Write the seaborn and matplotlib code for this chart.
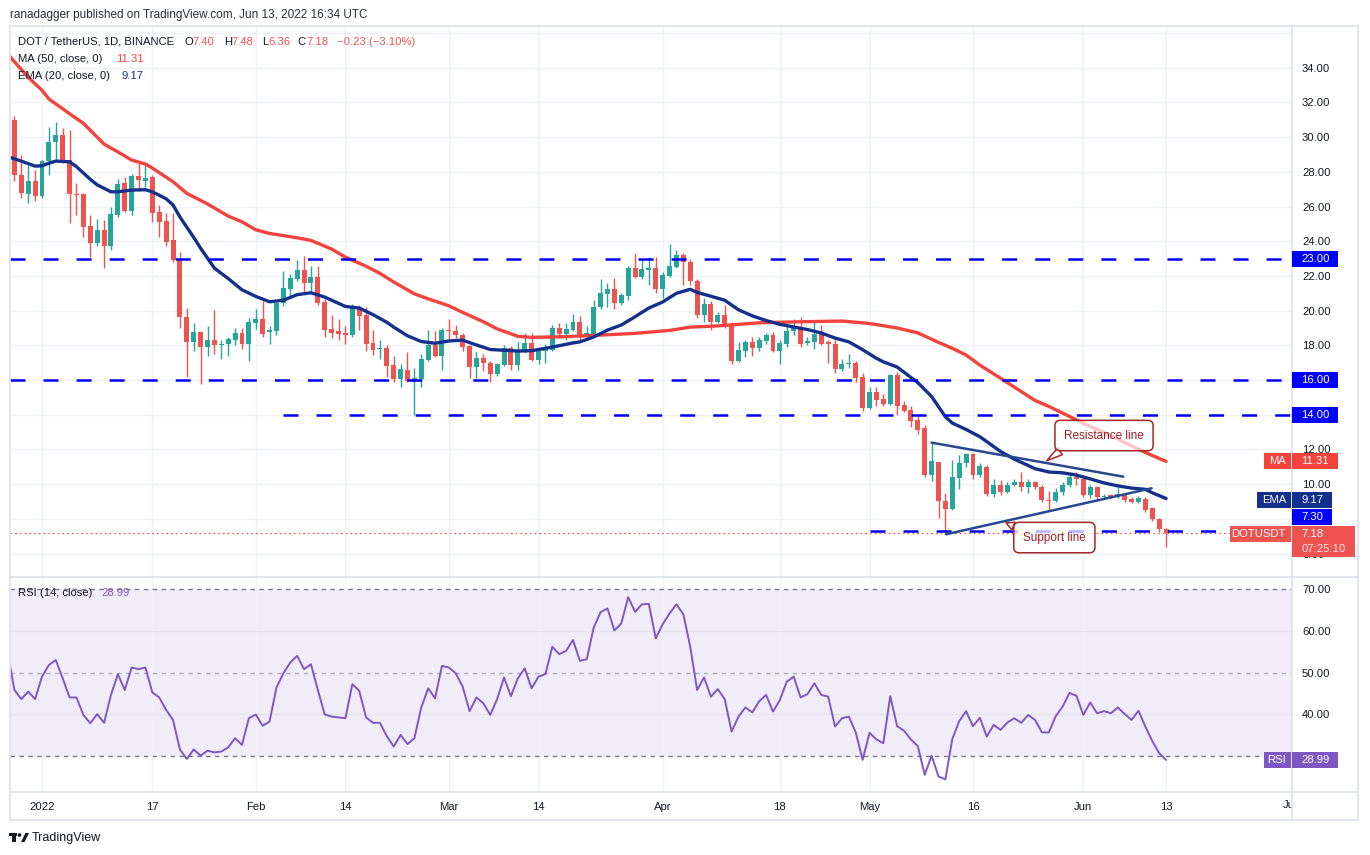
import numpy as np
import pandas as pd
import matplotlib
matplotlib.use("Agg")
import matplotlib.pyplot as plt
import matplotlib.transforms as mtransforms
from matplotlib.patches import Rectangle, Polygon, Ellipse
from matplotlib.lines import Line2D
import seaborn as sns

# daily candles DOT/USDT (Binance), 27 Dec 2021 .. 13 Jun 2022
opens = [31.4, 31.0, 27.8, 26.7, 27.5,
         26.6, 28.6, 29.7, 30.1, 28.7, 26.7, 26.7, 24.88, 23.9, 24.65,
         23.7, 25.5, 27.35, 25.76, 27.76, 27.5, 27.7, 25.68, 25.16, 24.07,
         22.97, 19.63, 18.2, 18.77, 17.92, 18.3, 18.0, 18.05, 18.29, 18.69, 18.07,
         19.27, 19.5, 18.75, 18.85, 20.42, 21.24, 21.82, 22.34, 21.6, 21.92,
         20.51, 18.94, 18.82, 18.69, 18.59, 20.17, 19.75, 18.15, 17.77, 17.82,
         16.86, 16.06, 16.58, 15.9, 16.06, 17.15, 18.02, 17.38,
         18.9, 18.85, 18.59, 17.96, 16.73, 17.29, 16.96, 16.33, 16.86, 17.82,
         16.86, 17.63, 18.11, 17.15, 17.69, 17.73, 18.99, 18.65, 18.88, 19.32,
         18.48, 18.67, 20.19, 20.96, 21.24, 20.45, 20.86, 22.47, 21.95, 22.34, 22.47,
         21.24, 22.01, 22.53, 23.2, 22.82, 21.7, 19.75, 20.38, 19.36, 19.75,
         19.23, 17.11, 17.69, 18.19, 17.86, 18.25, 18.59, 17.69, 18.07, 18.84,
         19.07, 18.11, 18.21, 18.65, 18.17, 18.05, 16.61, 16.9, 16.98, 16.15,
         14.4, 15.31, 14.9, 14.62, 16.29, 14.56, 14.27, 13.69, 13.21, 10.52,
         11.26, 9.03, 8.56, 10.37, 11.23, 11.73, 10.52, 11.0, 9.41, 9.95,
         9.56, 9.95, 10.14, 9.82, 10.14, 9.82, 9.1, 9.05, 9.56, 9.95, 10.43,
         10.27, 9.37, 9.82, 9.24, 9.37, 9.28, 9.41, 9.14, 8.95, 9.14, 8.6, 7.97, 7.40]
highs = [31.6, 31.2, 28.97, 28.4, 28.1,
         28.7, 30.6, 30.87, 30.5, 30.4, 27.35, 26.8, 25.5, 25.3, 25.2,
         26.0, 27.6, 27.7, 27.9, 28.5, 28.4, 27.8, 26.1, 25.6, 25.6,
         23.4, 20.15, 19.3, 18.8, 19.1, 20.03, 18.3, 18.5, 19.0, 19.0, 19.57,
         20.1, 20.57, 19.1, 20.5, 22.28, 22.1, 22.9, 23.15, 22.6, 22.6,
         20.8, 19.75, 19.5, 19.1, 20.4, 20.3, 20.2, 18.9, 18.3, 18.0,
         17.4, 16.9, 17.6, 16.67, 17.5, 18.9, 18.8, 19.0,
         19.5, 19.2, 18.7, 18.0, 17.6, 17.5, 17.1, 17.0, 18.0, 17.95,
         18.2, 18.7, 18.7, 17.8, 18.1, 19.2, 19.3, 19.3, 19.8, 19.7,
         19.1, 20.6, 21.8, 21.6, 21.9, 21.0, 22.6, 23.3, 22.95, 23.1, 23.1,
         22.2, 23.84, 23.5, 23.3, 23.0, 21.8, 20.7, 20.55, 19.9, 20.3,
         19.35, 18.2, 18.3, 18.5, 18.5, 18.7, 18.75, 18.3, 19.1, 19.5,
         19.65, 18.5, 19.4, 19.2, 18.3, 18.4, 17.2, 17.5, 17.1, 16.4,
         15.6, 15.6, 15.2, 16.35, 16.45, 14.8, 14.5, 13.9, 13.4, 12.44,
         11.3, 9.5, 11.4, 11.68, 11.8, 11.8, 11.2, 11.1, 10.3, 10.25,
         10.1, 10.27, 10.72, 10.27, 10.2, 9.95, 9.62, 9.8, 10.1, 10.72, 10.72,
         10.5, 9.95, 9.9, 9.41, 9.45, 9.82, 9.45, 9.28, 9.3, 9.28, 8.7, 8.03, 7.48]
lows = [30.8, 27.5, 26.5, 26.2, 26.3,
        26.5, 27.8, 28.7, 28.5, 25.07, 25.5, 24.26, 23.1, 23.7, 22.45,
        23.5, 25.4, 25.7, 25.5, 26.9, 27.1, 25.1, 24.26, 23.7, 22.8,
        19.0, 16.17, 17.7, 15.8, 17.4, 17.5, 17.2, 17.4, 18.0, 17.8, 17.1,
        18.95, 18.5, 18.1, 18.6, 20.27, 20.8, 21.7, 21.0, 21.1, 20.3,
        18.5, 18.4, 18.3, 18.1, 18.5, 18.9, 17.7, 17.45, 17.2, 16.2,
        15.9, 15.6, 15.9, 13.98, 15.6, 17.1, 17.35, 16.6,
        18.34, 18.4, 17.7, 16.1, 16.1, 16.5, 15.9, 16.25, 16.8, 16.6,
        16.6, 17.55, 17.1, 16.95, 17.0, 17.65, 18.4, 18.3, 18.8, 18.3,
        18.35, 18.5, 20.1, 20.2, 20.1, 20.3, 20.6, 21.9, 21.85, 21.5, 21.0,
        20.7, 21.95, 22.45, 21.5, 21.5, 19.6, 19.35, 18.9, 19.3, 19.0,
        16.95, 17.05, 17.3, 17.4, 17.7, 18.1, 17.6, 16.9, 17.9, 18.6,
        17.9, 18.0, 17.8, 18.0, 17.0, 16.4, 16.5, 16.7, 15.9, 14.2,
        14.35, 14.5, 14.5, 14.55, 13.98, 14.15, 13.3, 12.9, 10.4, 10.2,
        8.03, 7.16, 8.5, 9.72, 11.0, 10.3, 10.4, 9.3, 9.27, 9.4,
        9.5, 9.9, 9.62, 9.5, 9.7, 8.99, 8.51, 8.99, 9.4, 9.82, 9.95,
        9.28, 9.18, 9.14, 9.14, 9.18, 9.18, 8.99, 8.89, 8.89, 8.41, 7.89, 7.26, 6.36]
closes = [31.0, 27.8, 26.8, 27.5, 26.6,
          28.6, 29.7, 30.1, 28.6, 26.7, 26.65, 24.85, 23.9, 24.65, 23.7,
          25.57, 27.3, 25.75, 27.76, 27.55, 27.65, 25.65, 25.12, 23.97, 22.92,
          19.63, 18.2, 18.77, 17.92, 18.3, 18.0, 18.05, 18.35, 18.69, 18.07, 19.32,
          19.5, 18.65, 18.88, 20.45, 21.28, 21.86, 22.34, 21.57, 21.92, 20.45,
          18.88, 18.73, 18.65, 18.59, 20.27, 19.69, 18.07, 17.73, 17.8, 16.8,
          16.06, 16.62, 15.92, 16.1, 17.19, 18.02, 17.38, 18.88,
          18.85, 18.6, 17.92, 16.73, 17.29, 16.96, 16.33, 16.9, 17.82, 16.86,
          17.67, 18.11, 17.15, 17.69, 17.78, 18.99, 18.63, 18.94, 19.32, 18.48,
          18.69, 20.19, 21.03, 21.24, 20.45, 20.88, 22.47, 21.95, 22.4, 22.43, 21.24,
          22.05, 22.57, 23.2, 22.82, 21.7, 19.75, 20.38, 19.36, 19.75, 19.17,
          17.1, 17.73, 18.19, 17.86, 18.3, 18.59, 17.69, 18.15, 18.84, 19.07,
          18.07, 18.25, 18.65, 18.07, 18.07, 16.61, 16.9, 16.98, 16.13, 14.4,
          15.31, 14.85, 14.62, 16.29, 14.5, 14.23, 13.65, 13.12, 10.52, 11.33,
          9.0, 8.56, 10.43, 11.2, 11.73, 10.52, 11.02, 9.41, 9.95, 9.56,
          9.95, 10.14, 9.82, 10.14, 9.82, 9.08, 9.05, 9.56, 9.95, 10.43, 10.27,
          9.37, 9.82, 9.24, 9.31, 9.28, 9.41, 9.08, 8.99, 9.2, 8.51, 7.97, 7.40, 7.18]

# RSI(14) per candle
rsi = [55.0, 45.8, 43.6, 45.4, 43.6,
       49.0, 51.8, 53.0, 48.6, 44.0, 44.0, 39.8, 37.8, 40.0, 37.9,
       44.6, 49.6, 45.8, 51.2, 50.8, 51.2, 45.2, 44.0, 41.0, 38.6,
       31.5, 29.2, 31.5, 30.0, 31.2, 30.8, 31.0, 32.0, 34.2, 32.6, 39.0,
       39.9, 37.2, 38.2, 46.4, 49.8, 52.4, 54.0, 50.8, 52.0, 45.8,
       39.9, 39.4, 39.2, 39.0, 47.2, 45.6, 39.2, 37.9, 37.9, 34.7,
       32.2, 35.0, 32.8, 34.2, 41.6, 46.2, 43.8, 51.6,
       51.2, 49.8, 46.6, 40.7, 44.0, 42.6, 39.8, 43.6, 48.8, 44.3,
       48.6, 51.0, 46.2, 49.0, 49.6, 56.2, 54.4, 55.2, 57.8, 52.8,
       53.2, 60.8, 64.5, 65.4, 60.1, 61.8, 68.1, 64.6, 66.4, 66.5, 58.2,
       61.6, 64.2, 66.4, 64.0, 56.2, 45.8, 48.8, 44.2, 46.0, 43.6,
       35.8, 39.4, 41.6, 40.4, 43.1, 44.6, 40.6, 43.4, 47.8, 49.0,
       44.0, 44.8, 47.4, 44.6, 44.2, 37.0, 39.0, 39.4, 35.6, 29.0,
       35.5, 33.9, 33.0, 44.3, 37.1, 36.0, 33.9, 32.3, 25.4, 30.0,
       25.0, 24.3, 34.0, 38.3, 40.7, 37.1, 39.1, 34.6, 37.4, 36.2,
       38.0, 39.0, 37.9, 39.8, 38.6, 35.6, 35.6, 39.5, 41.8, 45.1, 44.4,
       39.8, 42.8, 40.2, 40.7, 40.2, 41.6, 40.0, 38.6, 40.8, 37.0, 33.5, 30.6, 28.99]

# MA(50) and EMA(20); days counted from 1 Jan 2022
ma_days = [-5, -4, -2, 0, 1, 4, 6, 9, 11, 13, 15, 16, 19, 21, 24, 27, 29, 31, 33, 37,
           39, 42, 44, 47, 49, 51, 54, 56, 59, 61, 64, 66, 69, 71, 76, 81, 86, 91, 94,
           98, 104, 110, 116, 120, 124, 127, 130, 132, 134, 136, 140, 144, 146, 149,
           151, 154, 157, 160, 163]
ma_vals = [34.8, 34.35, 33.45, 32.7, 32.2, 31.35, 30.8, 29.6, 29.15, 28.68, 28.45, 28.22,
           27.43, 26.76, 26.15, 25.45, 25.12, 24.66, 24.45, 24.2, 24.05, 23.55, 23.08,
           22.56, 22.15, 21.65, 20.97, 20.68, 20.28, 19.9, 19.36, 18.95, 18.52, 18.46,
           18.5, 18.59, 18.69, 18.86, 19.05, 19.12, 19.3, 19.36, 19.4, 19.26, 19.0,
           18.72, 18.17, 17.83, 17.44, 16.86, 15.85, 14.82, 14.48, 13.9, 13.5, 12.98,
           12.4, 11.82, 11.31]
ema_days = [-5, -3, -1, 0, 1, 2, 4, 5, 7, 8, 10, 11, 13, 15, 16, 18, 19, 20, 22, 23,
            25, 27, 29, 31, 33, 35, 37, 39, 41, 44, 46, 48, 50, 51, 53, 55, 57, 59, 61,
            63, 65, 69, 71, 74, 77, 78, 80, 82, 84, 86, 88, 90, 92, 94, 95, 97, 99, 101,
            103, 105, 107, 109, 111, 113, 115, 117, 119, 121, 122, 124, 125, 127, 129,
            131, 132, 134, 136, 137, 139, 141, 144, 146, 148, 150, 152, 154, 156, 158,
            160, 161, 163]
ema_vals = [28.88, 28.62, 28.33, 28.35, 28.5, 28.62, 28.58, 28.3, 27.57, 27.25, 26.85,
            26.85, 26.95, 26.97, 26.85, 26.45, 26.09, 25.4, 24.22, 23.6, 22.45, 21.85,
            21.2, 20.82, 20.51, 20.6, 20.92, 21.03, 20.78, 20.24, 20.15, 19.77, 19.33,
            19.05, 18.55, 18.22, 18.12, 18.25, 18.3, 18.02, 17.76, 17.67, 17.69, 17.9,
            18.14, 18.2, 18.48, 18.88, 19.17, 19.65, 20.15, 20.5, 21.0, 21.23, 21.05,
            20.83, 20.6, 20.05, 19.7, 19.43, 19.21, 19.06, 18.91, 18.71, 18.42, 18.2,
            17.75, 17.25, 17.05, 16.75, 16.45, 15.85, 15.05, 13.88, 13.52, 13.15, 12.73,
            12.45, 11.88, 11.44, 10.89, 10.7, 10.65, 10.52, 10.3, 10.07, 9.9, 9.77, 9.7,
            9.5, 9.17]

# horizontal levels and the day each one starts
levels = [23.0, 16.0, 14.0, 7.3]
level_start = [-4.64, -4.64, 35, 120]

# trend lines: two anchors each
res_days, res_vals = [129.0, 156.8], [12.39, 10.43]
sup_days, sup_vals = [131.1, 160.9], [7.11, 9.76]

# callouts: text, tail point, box centre
callout_text = ["Resistance line", "Support line"]
callout_tail = [(145.7, 11.35), (139.8, 7.76)]
callout_box = [(154.0, 12.80), (146.8, 6.92)]

tick_days = [0, 16, 31, 44, 59, 72, 90, 107, 120, 135, 151, 163, 181]
tick_labels = ["2022", "17", "Feb", "14", "Mar", "14", "Apr", "18", "May", "16", "Jun", "13", "Jul"]

assert len(opens) == len(highs) == len(lows) == len(closes) == len(rsi) == 169
assert len(ma_days) == len(ma_vals) and len(ema_days) == len(ema_vals)

GREEN = "#26a69a"
RED = "#ef5350"
MA_COLOR = "#f4433c"
EMA_COLOR = "#13308c"
LEVEL_BLUE = "#0000ff"
TREND = "#27478f"
RSI_COLOR = "#7e57c2"
GRID = "#eff1f5"
TEXT = "#131722"
FRAME = "#e0e3eb"
NOTE = "#a3262a"

sns.set_theme(style="white")
plt.rcParams["font.family"] = ["Liberation Sans", "DejaVu Sans"]
plt.rcParams["lines.scale_dashes"] = False

W, H = 1370, 855
fig = plt.figure(figsize=(W / 100, H / 100), dpi=100)


def fx(px):
    return px / W


def fy(py):
    return 1 - py / H


LEFT, RIGHT, TOP, SPLIT, BOTTOM = 10, 1292, 27, 577, 792
ax = fig.add_axes([fx(LEFT), fy(SPLIT), fx(RIGHT) - fx(LEFT), fy(TOP) - fy(SPLIT)])
ax_rsi = fig.add_axes([fx(LEFT), fy(BOTTOM), fx(RIGHT) - fx(LEFT), fy(SPLIT) - fy(BOTTOM)], sharex=ax)

dates = pd.date_range("2021-12-27", "2022-06-13", freq="D")
days = (dates - pd.Timestamp("2022-01-01")).days.to_numpy()
o, h, l, c = map(np.array, (opens, highs, lows, closes))
cols = np.where(c >= o, GREEN, RED)

x_min, x_max = -4.64, 181.26
ax.set_xlim(x_min, x_max)
ax.set_ylim(4.646, 36.35)
ax_rsi.set_ylim(21.27, 72.96)

# ---- price panel
ax.set_axisbelow(True)
ax.grid(True, color=GRID, linewidth=1)
ax.axhline(36, color=GRID, lw=1, zorder=0)
ax.vlines(days, l, h, colors=cols, linewidth=1, zorder=3)
ax.bar(days, np.maximum(np.abs(c - o), 0.05), bottom=np.minimum(o, c), width=0.72,
       color=cols, linewidth=0, zorder=4)

sns.lineplot(x=ma_days, y=ma_vals, ax=ax, color=MA_COLOR, linewidth=2.4, zorder=5, legend=False)
sns.lineplot(x=ema_days, y=ema_vals, ax=ax, color=EMA_COLOR, linewidth=2.4, zorder=6, legend=False)

ax.hlines(levels, level_start, x_max, colors=LEVEL_BLUE, linewidth=1.8,
          linestyles=[(0, (10.8, 13))], zorder=7)
ax.axhline(closes[-1], color=RED, lw=0.9, linestyle=(0, (1.2, 2.2)), zorder=2)
ax.plot(res_days, res_vals, color=TREND, lw=1.8, zorder=8, solid_capstyle="round")
ax.plot(sup_days, sup_vals, color=TREND, lw=1.8, zorder=8, solid_capstyle="round")

fill = (1, 1, 1, 0.7)
rel = [(0.12, 0.0), (0.06, 1.0)]
for txt, tail, box, rp in zip(callout_text, callout_tail, callout_box, rel):
    ax.annotate(txt, xy=tail, xytext=box, ha="center", va="center", fontsize=8.5, color="#9c1f24",
                bbox=dict(boxstyle="round,pad=0.78,rounding_size=0.45", fc=fill, ec=NOTE, lw=1.1),
                arrowprops=dict(arrowstyle="wedge,tail_width=0.7,shrink_factor=0.5", fc=fill, ec=NOTE,
                                lw=1.1, shrinkA=0, shrinkB=0, relpos=rp),
                zorder=9)

# the price scale hides labels that sit under a tag
hidden = {8, 14, 16}
yt = np.arange(6, 35, 2)
ax.yaxis.tick_right()
ax.set_yticks(yt)
ax.set_yticklabels(["" if v in hidden else f"{v:.2f}" for v in yt])
ax.tick_params(axis="y", length=0, pad=7.2, labelsize=8.1, labelcolor=TEXT)
ax.tick_params(axis="x", length=0, labelbottom=False)
ax.set_xlabel("")
ax.set_ylabel("")
for s in ax.spines.values():
    s.set_visible(False)

# ---- RSI panel
ax_rsi.set_axisbelow(True)
ax_rsi.axhspan(30, 70, color=RSI_COLOR, alpha=0.1, lw=0, zorder=0)
for v in (40, 60):
    ax_rsi.axhline(v, color="#e6e3ee", lw=1, zorder=1)
for v, a in ((70, 1.0), (50, 0.55), (30, 1.0)):
    ax_rsi.axhline(v, color="#787b86", lw=1, alpha=a, linestyle=(0, (3.2, 3.2)), zorder=2)
sns.lineplot(x=days, y=rsi, ax=ax_rsi, color=RSI_COLOR, linewidth=1.4, zorder=5, legend=False)
ax_rsi.grid(True, axis="x", color=GRID, linewidth=1)
ax_rsi.set_xticks(tick_days[:-1])
ax_rsi.set_xticklabels(tick_labels[:-1])
ax_rsi.tick_params(axis="x", length=0, pad=7, labelsize=8.1, labelcolor=TEXT)
rt = [30, 40, 50, 60, 70]
ax_rsi.yaxis.tick_right()
ax_rsi.set_yticks(rt)
ax_rsi.set_yticklabels(["" if v == 30 else f"{v:.2f}" for v in rt])
ax_rsi.tick_params(axis="y", length=0, pad=7.2, labelsize=8.1, labelcolor=TEXT)
ax_rsi.set_xlabel("")
ax_rsi.set_ylabel("")
for s in ax_rsi.spines.values():
    s.set_visible(False)

# last date label sits under the price scale and gets cut off
jul = ax_rsi.text(tick_days[-1], fy(805), tick_labels[-1], fontsize=8.1, color=TEXT, ha="center", va="center",
                  transform=mtransforms.blended_transform_factory(ax_rsi.transData, fig.transFigure))
jul.set_clip_box(mtransforms.TransformedBbox(
    mtransforms.Bbox([[fx(LEFT), fy(820)], [fx(RIGHT), fy(792)]]), fig.transFigure))
jul.set_clip_on(True)

# ---- frame
fr = dict(color=FRAME, lw=1.3, transform=fig.transFigure)
for (x0, y0, x1, y1) in [(10, 26, 1358, 26), (10, 820, 1358, 820), (10, 26, 10, 820), (1358, 26, 1358, 820),
                         (10, 577, 1358, 577), (10, 792, 1358, 792), (1292, 26, 1292, 820)]:
    fig.add_artist(Line2D([fx(x0), fx(x1)], [fy(y0), fy(y1)], **fr))


# ---- tags on the price scale
def yfrac(axis, value):
    return fig.transFigure.inverted().transform(axis.transData.transform((0, value)))[1]


def price_tag(axis, value, text, color, width=46, dy=0, tag=None, tag_width=0):
    yc = yfrac(axis, value) + dy / H
    hh = 16 / H
    fig.add_artist(Rectangle((fx(1292), yc - hh / 2), width / W, hh, transform=fig.transFigure,
                             fc=color, ec="none", zorder=10))
    fig.text(fx(1301), yc, text, color="white", fontsize=8.1, va="center", ha="left", zorder=11)
    if tag:
        fig.add_artist(Rectangle((fx(1291 - tag_width), yc - hh / 2), tag_width / W, hh,
                                 transform=fig.transFigure, fc=color, ec="none", zorder=10))
        fig.text(fx(1286), yc, tag, color="white", fontsize=8.1, va="center", ha="right", zorder=11)


for lv in levels[:3]:
    price_tag(ax, lv, f"{lv:.2f}", LEVEL_BLUE)
price_tag(ax, levels[3], f"{levels[3]:.2f}", LEVEL_BLUE, width=40, dy=14)
price_tag(ax, ma_vals[-1], f"{ma_vals[-1]:.2f}", MA_COLOR, tag="MA", tag_width=27)
price_tag(ax, ema_vals[-1], f"{ema_vals[-1]:.2f}", EMA_COLOR, width=40, dy=-1.8, tag="EMA", tag_width=34)
price_tag(ax_rsi, rsi[-1], f"{rsi[-1]:.2f}", RSI_COLOR, tag="RSI", tag_width=27)

yc = yfrac(ax, closes[-1])
fig.add_artist(Rectangle((fx(1292), yc - 24 / H), 63 / W, 31 / H, transform=fig.transFigure,
                         fc=RED, ec="none", zorder=10))
fig.add_artist(Rectangle((fx(1230), yc - 9 / H), 61 / W, 16 / H, transform=fig.transFigure,
                         fc=RED, ec="none", zorder=10))
fig.text(fx(1286), yc - 1 / H, "DOTUSDT", color="white", fontsize=8.1, va="center", ha="right", zorder=11)
fig.text(fx(1301), yc - 1 / H, f"{closes[-1]:.2f}", color="white", fontsize=8.1, va="center", ha="left", zorder=11)
fig.text(fx(1301), yc - 16 / H, "07:25:10", color="white", alpha=0.85, fontsize=8.1, va="center", ha="left",
         zorder=11)

# ---- legend texts
fig.text(fx(10), fy(15), "ranadagger published on TradingView.com, Jun 13, 2022 16:34 UTC",
         fontsize=8.5, color="#2a2e39", va="center", ha="left")
row1 = [("DOT / TetherUS, 1D, BINANCE", 18.3, TEXT), ("O", 184.3, TEXT), (f"{opens[-1]:.2f}", 192.7, RED),
        ("H", 224, TEXT), (f"{highs[-1]:.2f}", 231.7, RED), ("L", 261.7, TEXT), (f"{lows[-1]:.2f}", 268.3, RED),
        ("C", 297.7, TEXT), (f"{closes[-1]:.2f}", 306, RED), ("\u22120.23 (\u22123.10%)", 336.7, RED)]
for s, x, col in row1:
    fig.text(fx(x), fy(41.7), s, fontsize=8.1, color=col, va="center", ha="left", zorder=12)
fig.text(fx(18.3), fy(59.3), "MA (50, close, 0)", fontsize=8.1, color=TEXT, va="center", ha="left", zorder=12)
fig.text(fx(116), fy(59.3), f"{ma_vals[-1]:.2f}", fontsize=8.1, color=MA_COLOR, va="center", ha="left", zorder=12)
fig.text(fx(18.3), fy(76), "EMA (20, close, 0)", fontsize=8.1, color=TEXT, va="center", ha="left", zorder=12)
fig.text(fx(121.7), fy(76), f"{ema_vals[-1]:.2f}", fontsize=8.1, color=EMA_COLOR, va="center", ha="left", zorder=12)
fig.text(fx(18.4), fy(593), "RSI (14, close)", fontsize=8.1, color=TEXT, va="center", ha="left", zorder=12)
fig.text(fx(101.4), fy(593), f"{rsi[-1]:.2f}", fontsize=8.1, color=RSI_COLOR, va="center", ha="left", zorder=12)

# ---- TradingView mark
logo = dict(transform=fig.transFigure, fc=TEXT, ec="none")
fig.add_artist(Rectangle((fx(9), fy(836)), 8 / W, 3 / H, **logo))
fig.add_artist(Rectangle((fx(12.5), fy(842)), 3.5 / W, 9 / H, **logo))
fig.add_artist(Ellipse((fx(19.5), fy(835)), 3.6 / W, 3.6 / H, **logo))
fig.add_artist(Polygon([(fx(21), fy(842)), (fx(24.5), fy(842)), (fx(29), fy(833)), (fx(25.5), fy(833))], **logo))
fig.text(fx(32), fy(837.5), "TradingView", fontsize=9, color=TEXT, va="center", ha="left")

fig.savefig("out.png", dpi=100, facecolor="white")
